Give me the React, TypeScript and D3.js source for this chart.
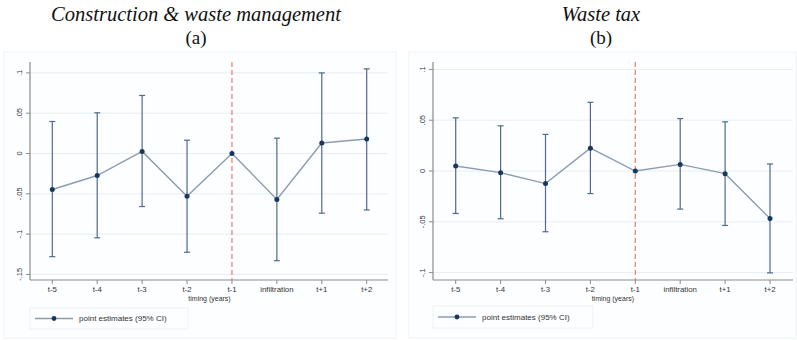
import React from "react";
import * as d3 from "d3";

const categories = ["t-5", "t-4", "t-3", "t-2", "t-1", "infiltration", "t+1", "t+2"];

// Panel (a): Construction & waste management
const estA = [-0.0447, -0.0273, 0.0025, -0.053, 0, -0.057, 0.013, 0.018];
const upA = [0.0397, 0.0505, 0.072, 0.0165, 0, 0.019, 0.1, 0.105];
const loA = [-0.128, -0.1046, -0.0658, -0.1225, 0, -0.133, -0.074, -0.07];
const ticksA = [0.1, 0.05, 0, -0.05, -0.1, -0.15];
const tickLabelsA = [".1", ".05", "0", "-.05", "-.1", "-.15"];

// Panel (b): Waste tax
const estB = [0.0049, -0.0016, -0.0124, 0.0225, 0, 0.0065, -0.0026, -0.0467];
const upB = [0.0523, 0.0445, 0.036, 0.0676, 0, 0.0516, 0.0484, 0.0069];
const loB = [-0.0418, -0.047, -0.0598, -0.0222, 0, -0.0375, -0.0536, -0.1003];
const ticksB = [0.1, 0.05, 0, -0.05, -0.1];
const tickLabelsB = [".1", ".05", "0", "-.05", "-.1"];

const titles = ["Construction & waste management", "Waste tax"];
const subtitles = ["(a)", "(b)"];
const xTitle = "timing (years)";
const legendLabel = "point estimates (95% CI)";

type PanelProps = {
  box: [number, number, number, number];
  axisX: number;
  plotRight: number;
  plotTop: number;
  axisY: number;
  xRange: [number, number];
  yDomain: [number, number];
  yRange: [number, number];
  est: number[];
  up: number[];
  lo: number[];
  ticks: number[];
  tickLabels: string[];
  title: string;
  subtitle: string;
  titleX: number;
  legendBox: [number, number, number, number];
};

const LINE = "#8d9cb0";
const BAR = "#4f6a8c";
const MARK = "#17375e";
const RED = "#f07a63";
const GRID = "#e6eef2";
const AXIS = "#8a8a8a";

function Panel(p: PanelProps) {
  const x = d3.scalePoint<string>().domain(categories).range(p.xRange).padding(0);
  const y = d3.scaleLinear().domain(p.yDomain).range(p.yRange);
  const line = d3
    .line<number>()
    .x((_, i) => x(categories[i]) as number)
    .y((d) => y(d));
  const refX = x("t-1") as number;
  const midX = (p.xRange[0] + p.xRange[1]) / 2 + 0;
  const [lx, ly, lw, lh] = p.legendBox;
  return (
    <g>
      <rect x={p.box[0]} y={p.box[1]} width={p.box[2]} height={p.box[3]} fill="#fdfeff" stroke="#eef3f6" strokeWidth={1} />
      <text x={p.titleX} y={20.5} textAnchor="middle" fontFamily="Liberation Serif" fontStyle="italic" fontSize={20.5} fill="#111">
        {p.title}
      </text>
      <text x={p.titleX} y={44} textAnchor="middle" fontFamily="Liberation Serif" fontSize={19} fill="#111">
        {p.subtitle}
      </text>
      {/* grid */}
      {p.ticks.map((t, i) => (
        <line key={"g" + i} x1={p.axisX} x2={p.plotRight} y1={y(t)} y2={y(t)} stroke={GRID} strokeWidth={1} />
      ))}
      {/* y axis */}
      <line x1={p.axisX} x2={p.axisX} y1={p.plotTop} y2={p.axisY} stroke={AXIS} strokeWidth={1.2} />
      {p.ticks.map((t, i) => (
        <g key={"yt" + i}>
          <line x1={p.axisX - 4} x2={p.axisX} y1={y(t)} y2={y(t)} stroke={AXIS} strokeWidth={1} />
          <text
            transform={`translate(${p.axisX - 8},${y(t)}) rotate(-90)`}
            textAnchor="middle"
            fontFamily="Liberation Sans"
            fontSize={7.5}
            fill="#333"
          >
            {p.tickLabels[i]}
          </text>
        </g>
      ))}
      {/* x axis */}
      <line x1={p.axisX} x2={p.plotRight} y1={p.axisY} y2={p.axisY} stroke={AXIS} strokeWidth={1.2} />
      {categories.map((c) => (
        <g key={"xt" + c}>
          <line x1={x(c)} x2={x(c)} y1={p.axisY} y2={p.axisY + 4} stroke={AXIS} strokeWidth={1} />
          <text x={x(c)} y={p.axisY + 12} textAnchor="middle" fontFamily="Liberation Sans" fontSize={7.8} fill="#333">
            {c}
          </text>
        </g>
      ))}
      <text x={midX} y={p.axisY + 21} textAnchor="middle" fontFamily="Liberation Sans" fontSize={7} fill="#333">
        {xTitle}
      </text>
      {/* reference line */}
      <line x1={refX} x2={refX} y1={p.plotTop} y2={p.axisY} stroke={RED} strokeWidth={1.2} strokeDasharray="5,3" />
      {/* error bars */}
      {categories.map((c, i) =>
        p.up[i] === p.lo[i] ? null : (
          <g key={"eb" + c} stroke={BAR} strokeWidth={1.2}>
            <line x1={x(c)} x2={x(c)} y1={y(p.up[i])} y2={y(p.lo[i])} />
            <line x1={(x(c) as number) - 3} x2={(x(c) as number) + 3} y1={y(p.up[i])} y2={y(p.up[i])} />
            <line x1={(x(c) as number) - 3} x2={(x(c) as number) + 3} y1={y(p.lo[i])} y2={y(p.lo[i])} />
          </g>
        )
      )}
      <path d={line(p.est) || ""} fill="none" stroke={LINE} strokeWidth={1.4} />
      {categories.map((c, i) => (
        <circle key={"m" + c} cx={x(c)} cy={y(p.est[i])} r={2.5} fill={MARK} />
      ))}
      {/* legend */}
      <rect x={lx} y={ly} width={lw} height={lh} fill="#fdfeff" stroke="#eef2f5" strokeWidth={1} />
      <line x1={lx + 5} x2={lx + 43} y1={ly + lh / 2} y2={ly + lh / 2} stroke={LINE} strokeWidth={1.4} />
      <circle cx={lx + 24} cy={ly + lh / 2} r={2.4} fill={MARK} />
      <text x={lx + 49} y={ly + lh / 2 + 2.8} fontFamily="Liberation Sans" fontSize={8} fill="#333">
        {legendLabel}
      </text>
    </g>
  );
}

export default function App() {
  return (
    <div style={{ position: "absolute", left: 0, top: 0 }}>
      <svg width={797} height={340} style={{ display: "block", background: "#fff" }}>
        <Panel
          box={[4, 52, 392, 286]}
          axisX={30}
          plotRight={388}
          plotTop={62}
          axisY={280}
          xRange={[52.3, 366.7]}
          yDomain={[-0.15, 0.1]}
          yRange={[274.4, 72.9]}
          est={estA}
          up={upA}
          lo={loA}
          ticks={ticksA}
          tickLabels={tickLabelsA}
          title={titles[0]}
          subtitle={subtitles[0]}
          titleX={196}
          legendBox={[30, 308, 158, 21]}
        />
        <Panel
          box={[409, 52, 387, 286]}
          axisX={433}
          plotRight={793}
          plotTop={62}
          axisY={280}
          xRange={[455.7, 770]}
          yDomain={[-0.1, 0.1]}
          yRange={[272.6, 69.4]}
          est={estB}
          up={upB}
          lo={loB}
          ticks={ticksB}
          tickLabels={tickLabelsB}
          title={titles[1]}
          subtitle={subtitles[1]}
          titleX={601}
          legendBox={[433, 306, 160, 22]}
        />
      </svg>
    </div>
  );
}
